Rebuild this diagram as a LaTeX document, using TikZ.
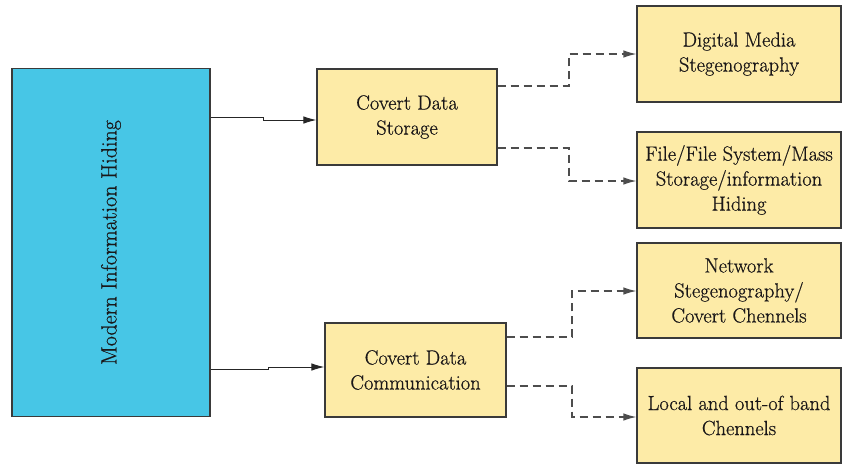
\documentclass[tikz,border=0pt]{standalone}
\usepackage{fontspec}
\setmainfont{Latin Modern Roman}
\newfontfamily\boxfont{Latin Modern Roman}[FakeBold=0.6]
\usetikzlibrary{arrows.meta}
\definecolor{boxblue}{HTML}{47C6E6}
\definecolor{boxyellow}{HTML}{FDEBA7}
\definecolor{edge}{HTML}{3A3A3A}
\definecolor{txt}{HTML}{1A1718}
\definecolor{dashgray}{HTML}{4D4D4D}
\begin{document}
\begin{tikzpicture}[x=1pt,y=-1pt,
  yellowbox/.style={draw=edge,line width=1.1pt,fill=boxyellow,inner sep=0pt,align=center,text=txt,
    font=\fontsize{20.5}{25}\boxfont},
  solidarrow/.style={draw=black!85,line width=1pt,-{Latex[length=13pt,width=7.5pt]}},
  dasharrow/.style={draw=dashgray,line width=1.3pt,dash pattern=on 8pt off 5pt,-{Latex[length=13pt,width=7.5pt]}}]
\useasboundingbox (0,0) rectangle (842,464);
\node[draw=edge,line width=1.1pt,fill=boxblue,minimum width=198pt,minimum height=348pt,inner sep=0pt] (main) at (111,242.5) {};
\node[rotate=90,text=txt,font=\fontsize{22}{25}\boxfont] (mainlabel) at (main.center) {Modern Information Hiding};
\node[yellowbox,minimum width=180pt,minimum height=96pt] (storage) at (407,117) {Covert Data\\Storage};
\node[yellowbox,minimum width=181pt,minimum height=94pt] (comm) at (415.5,370) {Covert Data\\Communication};
\node[yellowbox,minimum width=204pt,minimum height=96pt] (digital) at (739,54) {Digital Media\\Stegenography};
\node[yellowbox,minimum width=204pt,minimum height=96pt] (file) at (739,180) {File/File System/Mass\\Storage/information\\Hiding};
\node[yellowbox,minimum width=204pt,minimum height=95pt] (network) at (739,290.5) {Network\\Stegenography/\\Covert Chennels};
\node[yellowbox,minimum width=204pt,minimum height=95pt] (local) at (739,415.5) {Local and out-of band\\Chennels};
\draw[solidarrow] (main.east |- 0,117) -- (263,117) -- (263,120) -- (storage.west |- 0,120);
\draw[solidarrow] (main.east |- 0,369) -- (268,369) -- (268,367) -- (comm.west |- 0,367);
\draw[dasharrow] (storage.east |- 0,86) -- (569,86) -- (569,54) -- (digital.west |- 0,54);
\draw[dasharrow] (storage.east |- 0,148) -- (569,148) -- (569,181) -- (file.west |- 0,181);
\draw[dasharrow] (comm.east |- 0,337) -- (572,337) -- (572,291) -- (network.west |- 0,291);
\draw[dasharrow] (comm.east |- 0,386) -- (572,386) -- (572,417) -- (local.west |- 0,417);
\end{tikzpicture}
\end{document}
